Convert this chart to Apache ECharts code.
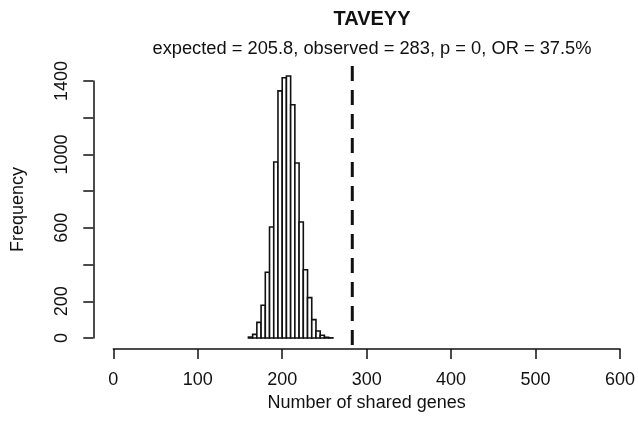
<!DOCTYPE html>
<html>
<head>
<meta charset="utf-8">
<script src="https://cdn.jsdelivr.net/npm/echarts@6/dist/echarts.min.js"></script>
<style>
  html, body { margin: 0; padding: 0; background: #fff; }
  #main { width: 638px; height: 438px; }
</style>
</head>
<body>
<div id="main"></div>
<script>
// histogram of shared genes over permutations (bin edges + counts)
const breaks = [160, 165, 170, 175, 180, 185, 190, 195, 200, 205, 210,
                215, 220, 225, 230, 235, 240, 245, 250, 255, 260];
const counts = [5, 20, 85, 178, 358, 605, 959, 1346, 1418, 1427,
                1271, 953, 632, 372, 220, 100, 38, 15, 4, 1];
const observed = 283;
const shownYLabels = [0, 200, 600, 1000, 1400];
// R plot region limits (usr) used for the vertical reference line
const plotYRange = [-57, 1482];

const mainTitle = 'TAVEYY';
const subTitle = 'expected = 205.8, observed = 283, p = 0, OR = 37.5%';

const chart = echarts.init(document.getElementById('main'));
const font = 'Liberation Sans, Arial, Helvetica, sans-serif';
const ink = '#111';

const histData = counts.map((c, i) => [breaks[i], breaks[i + 1], c]);

chart.setOption({
    animation: false,
    backgroundColor: '#fff',
    title: [
        {
            text: mainTitle,
            left: 367,
            top: 4,
            textAlign: 'center',
            textStyle: { fontFamily: font, fontSize: 20, fontWeight: 'bold', color: ink }
        },
        {
            text: subTitle,
            left: 367,
            top: 35,
            textAlign: 'center',
            textStyle: { fontFamily: font, fontSize: 18.3, fontWeight: 'normal', color: ink }
        }
    ],
    grid: { left: 113.3, right: 16.3, top: 81, bottom: 100 },
    xAxis: {
        type: 'value',
        min: 0,
        max: 600,
        interval: 100,
        offset: 11,
        splitLine: { show: false },
        axisLine: { show: true, onZero: false, lineStyle: { color: ink, width: 1.5 } },
        axisTick: { show: true, length: 10, lineStyle: { color: ink, width: 1.5 } },
        axisLabel: { margin: 22, fontFamily: font, fontSize: 18, color: ink },
        name: 'Number of shared genes',
        nameLocation: 'middle',
        nameGap: 39,
        nameTextStyle: { fontFamily: font, fontSize: 18, color: ink }
    },
    yAxis: {
        type: 'value',
        min: 0,
        max: 1400,
        interval: 200,
        offset: 20,
        splitLine: { show: false },
        axisLine: { show: true, onZero: false, lineStyle: { color: ink, width: 1.5 } },
        axisTick: { show: true, length: 10, lineStyle: { color: ink, width: 1.5 } },
        axisLabel: {
            rotate: 90,
            margin: 22,
            fontFamily: font,
            fontSize: 18,
            color: ink,
            formatter: v => shownYLabels.includes(v) ? String(v) : ''
        },
        name: 'Frequency',
        nameLocation: 'middle',
        nameGap: 66,
        nameTextStyle: { fontFamily: font, fontSize: 18, color: ink }
    },
    series: [
        {
            type: 'custom',
            data: histData,
            renderItem: function(params, api) {
                const lo = api.coord([api.value(0), api.value(2)]);
                const hi = api.coord([api.value(1), 0]);
                return {
                    type: 'rect',
                    shape: { x: lo[0], y: lo[1], width: hi[0] - lo[0], height: hi[1] - lo[1] },
                    style: { fill: '#fff', stroke: ink, lineWidth: 1.6 }
                };
            }
        },
        {
            type: 'custom',
            clip: false,
            data: [[observed]],
            renderItem: function(params, api) {
                const top = api.coord([api.value(0), plotYRange[1]]);
                const bottom = api.coord([api.value(0), plotYRange[0]]);
                return {
                    type: 'line',
                    shape: { x1: top[0], y1: top[1], x2: bottom[0], y2: bottom[1] },
                    style: { stroke: ink, lineWidth: 3, lineDash: [15, 9] }
                };
            }
        }
    ]
});
</script>
</body>
</html>
